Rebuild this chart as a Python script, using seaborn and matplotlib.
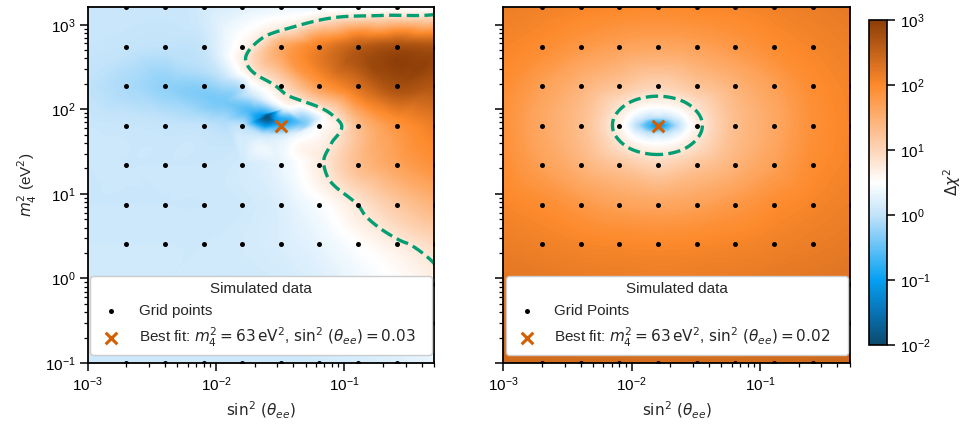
import numpy as np
import pandas as pd
import matplotlib
matplotlib.use("Agg")
import matplotlib.pyplot as plt
import matplotlib.tri as mtri
from matplotlib.colors import LinearSegmentedColormap, LogNorm
import seaborn as sns

# ---------------------------------------------------------------- data
# simulated grid in (sin^2 theta_ee, m_4^2 [eV^2])
sin2_grid = [0.002, 0.004, 0.008, 0.016, 0.032, 0.064, 0.128, 0.256, 0.512]
m2_grid = [0.1, 0.294, 0.862, 2.53, 7.43, 21.8, 64.0, 188.0, 552.0, 1620.0]
sin2_edge = 0.001  # extra table column at the left border

# log10(delta chi^2) tables: columns = [sin2_edge] + sin2_grid, rows = m2_grid (bottom -> top)
log_dchi2_left = [
    [0.10, 0.10, 0.10, 0.10, 0.10, 0.10, 0.10, 0.15, 0.20, 0.30],
    [0.10, 0.10, 0.10, 0.10, 0.10, 0.10, 0.15, 0.25, 0.35, 0.50],
    [0.10, 0.10, 0.10, 0.10, 0.10, 0.12, 0.20, 0.35, 0.50, 0.68],
    [0.10, 0.10, 0.10, 0.10, 0.12, 0.18, 0.30, 0.50, 0.70, 0.95],
    [0.08, 0.08, 0.08, 0.08, 0.10, 0.20, 0.45, 0.78, 1.15, 1.45],
    [0.08, 0.08, 0.08, 0.08, 0.12, 0.30, 0.72, 1.30, 1.65, 1.90],
    [0.08, 0.06, 0.03, 0.00, -0.05, -0.75, 0.45, 1.30, 1.85, 2.15],
    [0.00, -0.12, -0.26, -0.30, -0.02, 0.78, 1.75, 2.30, 2.75, 2.65],
    [0.06, 0.03, 0.00, 0.05, 0.60, 1.55, 2.10, 2.55, 2.75, 2.70],
    [0.08, 0.08, 0.08, 0.12, 0.22, 0.30, 0.35, 0.40, 0.45, 0.50],
]
log_dchi2_right = [
    [2.41, 2.39, 2.37, 2.37, 2.36, 2.37, 2.37, 2.39, 2.41, 2.44],
    [2.33, 2.30, 2.28, 2.27, 2.27, 2.27, 2.28, 2.30, 2.33, 2.36],
    [2.25, 2.22, 2.19, 2.17, 2.16, 2.17, 2.19, 2.22, 2.25, 2.28],
    [2.15, 2.10, 2.05, 2.02, 2.00, 2.02, 2.05, 2.10, 2.15, 2.20],
    [2.05, 1.95, 1.80, 1.68, 1.63, 1.68, 1.80, 1.95, 2.05, 2.13],
    [1.95, 1.70, 1.45, 1.20, 1.00, 1.20, 1.45, 1.70, 1.95, 2.07],
    [1.90, 1.60, 1.30, 0.65, -1.10, 0.65, 1.30, 1.60, 1.90, 2.05],
    [1.95, 1.70, 1.45, 1.20, 1.00, 1.20, 1.45, 1.70, 1.95, 2.07],
    [2.05, 1.95, 1.80, 1.68, 1.63, 1.68, 1.80, 1.95, 2.05, 2.13],
    [2.15, 2.10, 2.05, 2.02, 2.00, 2.02, 2.05, 2.10, 2.15, 2.20],
]

# additional samples between grid nodes: log10(sin2), log10(m2), log10(delta chi^2)
left_extra_lsin2 = [-2.25, -1.95, -1.76, -1.66, -1.60, -1.53, -1.42, -1.30,
                    -2.25, -1.95, -1.72, -1.45,
                    -2.25, -1.95, -1.65, -1.40,
                    -0.315, -0.58, -0.83, -0.94, -1.12, -1.16, -1.10, -1.02, -1.10, -1.35, -1.53,
                    -1.72, -1.77, -1.66, -1.43, -1.10, -0.70, -0.30]
left_extra_lm2 = [2.22, 2.10, 1.99, 1.94, 1.92, 1.90, 1.87, 1.84,
                  2.50, 2.38, 2.20, 2.03,
                  1.95, 1.85, 1.68, 1.68,
                  0.20, 0.46, 0.73, 0.93, 1.17, 1.40, 1.60, 1.80, 1.94, 2.11, 2.27,
                  2.45, 2.59, 2.82, 2.96, 3.08, 3.11, 3.12]
left_extra_val = [-0.32, -0.40, -0.60, -1.00, -1.90, -1.00, -0.80, -0.35,
                  -0.08, 0.00, 0.18, 0.45,
                  -0.10, -0.10, 0.10, 0.30,
                  0.777, 0.777, 0.777, 0.777, 0.777, 0.777, 0.777, 0.777, 0.777, 0.777, 0.777,
                  0.777, 0.777, 0.777, 0.777, 0.777, 0.777, 0.777]

right_extra_lsin2 = [-1.89, -1.71, -1.80, -1.80, -1.865, -1.735, -1.865, -1.735,
                     -1.97, -1.63, -1.80, -1.80, -1.92, -1.68, -1.92, -1.68,
                     -2.06, -1.54, -1.80, -1.80, -1.985, -1.615, -1.985, -1.615,
                     -2.15, -1.45, -1.80, -1.80, -2.047, -1.553, -2.047, -1.553]
right_extra_lm2 = [1.81, 1.81, 1.865, 1.755, 1.85, 1.85, 1.77, 1.77,
                   1.81, 1.81, 1.91, 1.71, 1.88, 1.88, 1.74, 1.74,
                   1.81, 1.81, 2.03, 1.59, 1.965, 1.965, 1.655, 1.655,
                   1.81, 1.81, 2.155, 1.465, 2.054, 2.054, 1.566, 1.566]
right_extra_val = [-0.60] * 8 + [0.0] * 8 + [0.5] * 8 + [0.777] * 8

best_fit_left = (0.032, 63.0)
best_fit_right = (0.016, 63.0)
dchi2_level = 5.99

# ---------------------------------------------------------------- style
sns.set_style("ticks")
plt.rcParams.update({
    "font.family": ["Liberation Sans", "DejaVu Sans"],
    "mathtext.fontset": "dejavusans",
    "font.size": 11,
    "axes.edgecolor": "black",
    "axes.linewidth": 1.3,
    "xtick.color": "black",
    "ytick.color": "black",
    "xtick.major.size": 5.5,
    "ytick.major.size": 5.5,
    "xtick.minor.size": 3.0,
    "ytick.minor.size": 3.0,
    "xtick.major.width": 1.1,
    "ytick.major.width": 1.1,
    "xtick.minor.width": 0.9,
    "ytick.minor.width": 0.9,
    "legend.fontsize": 11,
    "legend.title_fontsize": 11,
})

palette = sns.color_palette("colorblind")
green = palette[2]
orange = palette[3]

cmap = LinearSegmentedColormap.from_list(
    "dchi2",
    [(0.0, "#0c4a6e"), (0.1, "#0873b5"), (0.2, "#06a0f2"), (0.4, "#c2e3fa"),
     (0.5, "#ffffff"), (0.6, "#fdd5b8"), (0.8, "#fd8a2c"), (1.0, "#8c3d07")],
)
norm = LogNorm(vmin=1e-2, vmax=1e3)
fill_levels = np.logspace(-2.0, 3.0, 251)

fig = plt.figure(figsize=(9.63, 4.24), dpi=100)
ax_l = fig.add_axes([0.0911, 0.1439, 0.3596, 0.8396])
ax_r = fig.add_axes([0.5226, 0.1439, 0.3600, 0.8396])
cax = fig.add_axes([0.9024, 0.1863, 0.0187, 0.7665])

col_l = np.log10([sin2_edge] + sin2_grid)
row_l = np.log10(m2_grid)


def dchi2_surface(ax, table, ex_x, ex_y, ex_v):
    gx, gy = np.meshgrid(col_l, row_l)
    gx, gy, gv = gx.ravel(), gy.ravel(), np.asarray(table, float).ravel()
    ex_x, ex_y, ex_v = map(np.asarray, (ex_x, ex_y, ex_v))
    # skip grid nodes that sit on top of an extra sample
    d = np.hypot(gx[:, None] - ex_x[None, :], gy[:, None] - ex_y[None, :]).min(axis=1)
    keep = d > 0.05
    px = np.concatenate([gx[keep], ex_x])
    py = np.concatenate([gy[keep], ex_y])
    pv = np.concatenate([gv[keep], ex_v])
    tri = mtri.Triangulation(px, py)
    interp = mtri.CubicTriInterpolator(tri, pv, kind="geom")
    fine, fz = mtri.UniformTriRefiner(tri).refine_field(pv, triinterpolator=interp, subdiv=4)
    fine_log = mtri.Triangulation(10 ** fine.x, 10 ** fine.y, fine.triangles)
    z = 10 ** fz
    mesh = ax.tricontourf(fine_log, z, levels=fill_levels, cmap=cmap, norm=norm,
                          extend="both", antialiased=False, zorder=1)
    ax.tricontour(fine_log, z, levels=[dchi2_level], colors=[green],
                  linestyles="--", linewidths=2.4, zorder=2)
    return mesh


grid_df = pd.DataFrame(
    [(s, m) for m in m2_grid for s in sin2_grid], columns=["sin2", "m2"]
)

panels = [
    (ax_l, log_dchi2_left, left_extra_lsin2, left_extra_lm2, left_extra_val,
     best_fit_left, "Grid points"),
    (ax_r, log_dchi2_right, right_extra_lsin2, right_extra_lm2, right_extra_val,
     best_fit_right, "Grid Points"),
]

for ax, table, ex_x, ex_y, ex_v, (bs, bm), grid_label in panels:
    ax.set_xscale("log")
    ax.set_yscale("log")
    mesh = dchi2_surface(ax, table, ex_x, ex_y, ex_v)
    sns.scatterplot(data=grid_df, x="sin2", y="m2", color="black", s=13, linewidth=0,
                    ax=ax, label=grid_label, zorder=3, legend=False)
    ax.scatter([bs], [bm], marker="x", s=70, linewidths=2.2, color=orange, zorder=4,
               label=rf"Best fit: $m_4^2 = {bm:.0f}\,\mathrm{{eV}}^2$, "
                     rf"$\sin^2\,(\theta_{{ee}}) = {bs:.2f}$")
    ax.set_xlim(1e-3, 0.5)
    ax.set_ylim(m2_grid[0], m2_grid[-1])
    ax.set_xlabel(r"$\sin^2\,(\theta_{ee})$")
    for side in ["top", "right"]:
        ax.spines[side].set_visible(True)
    handles, labels = ax.get_legend_handles_labels()
    leg = ax.legend(handles, labels, title="Simulated data", loc="lower left",
                    bbox_to_anchor=(0.0066, 0.0225, 0.9874, 0.5), mode="expand",
                    borderaxespad=0, framealpha=1.0, handletextpad=0.8)
    leg.set_zorder(5)

ax_l.set_ylabel(r"$m_4^2$ (eV$^2$)")
ax_r.set_ylabel("")
ax_r.tick_params(axis="y", labelleft=False)

cb = fig.colorbar(plt.cm.ScalarMappable(norm=norm, cmap=cmap), cax=cax)
cb.ax.minorticks_off()
cb.outline.set_linewidth(1.2)
cb.outline.set_edgecolor("black")
cb.set_label(r"$\Delta\chi^2$", labelpad=8)

fig.savefig("out.png", dpi=100)
